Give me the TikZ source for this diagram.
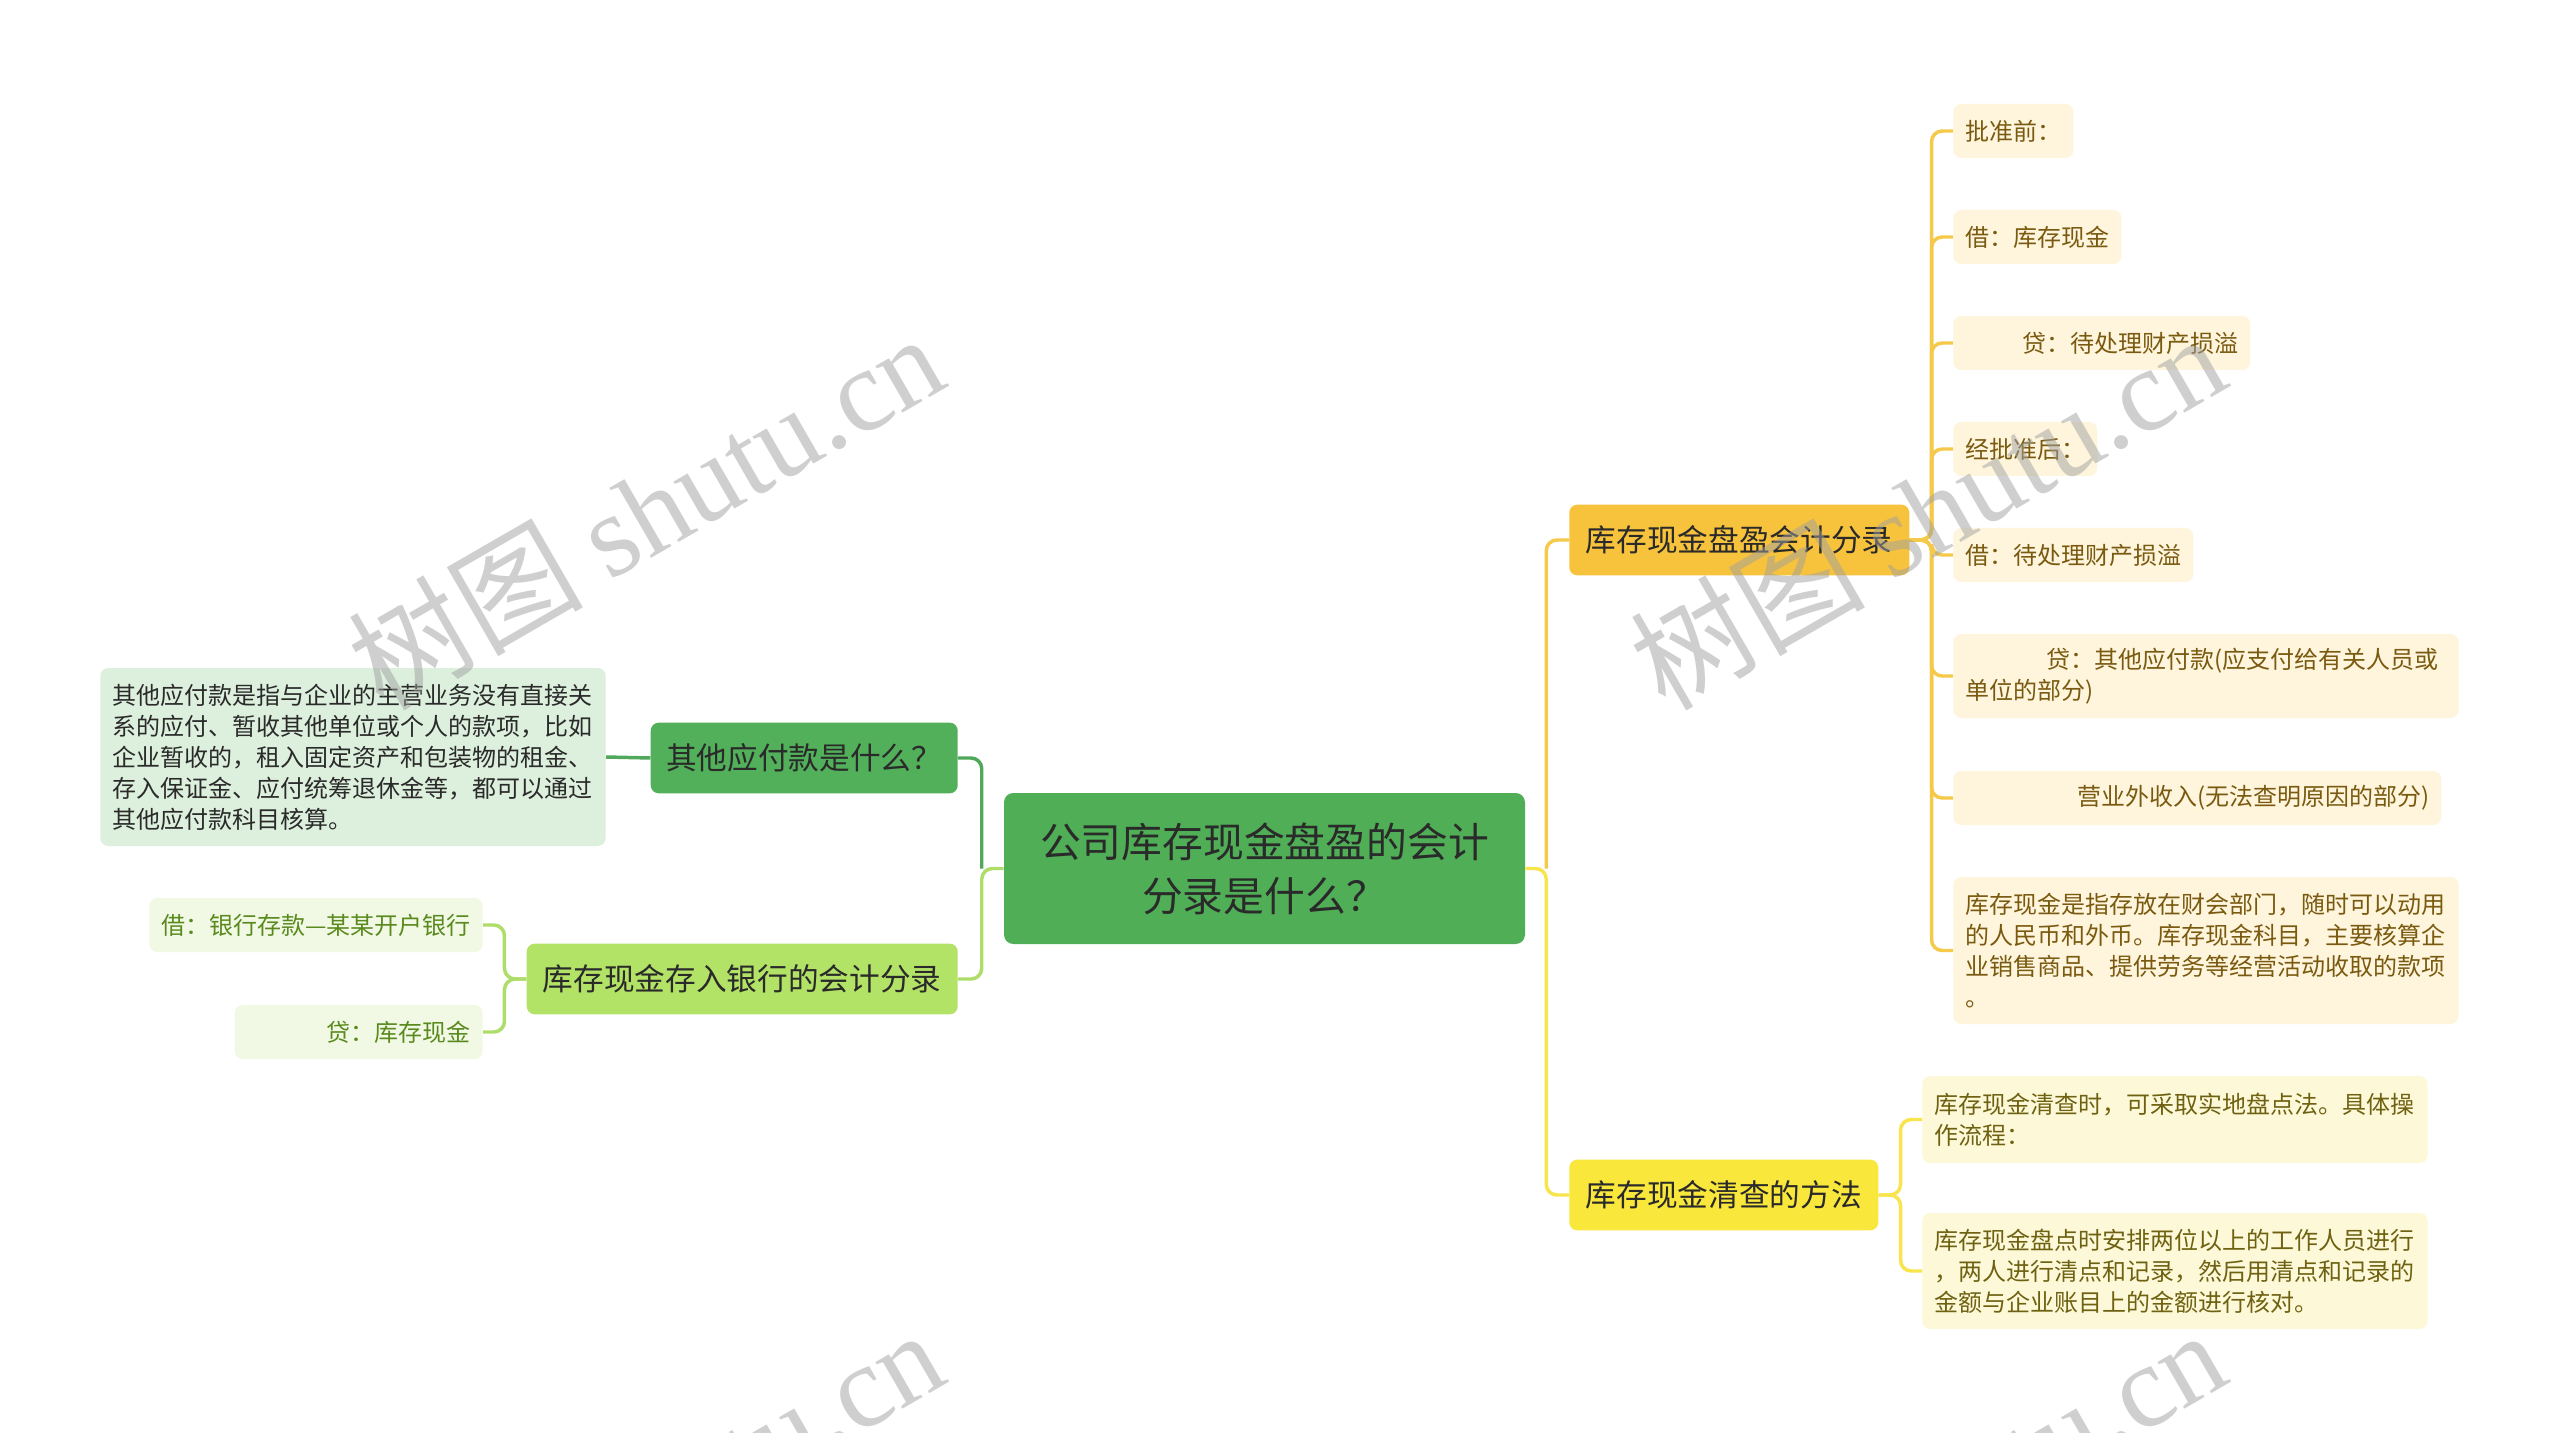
\documentclass[tikz,border=0pt]{standalone}
\usepackage{fontspec}
\setmainfont{Noto Sans CJK SC}
\newfontfamily\wmlatin{Liberation Serif}
\definecolor{cfill}{HTML}{50AE57}
\definecolor{ctext}{HTML}{2A2A2A}
\definecolor{dgfill}{HTML}{52AF5A}
\definecolor{dgline}{HTML}{50A85A}
\definecolor{tbfill}{HTML}{DDEFDD}
\definecolor{lgfill}{HTML}{B3E366}
\definecolor{lgline}{HTML}{AEDD6A}
\definecolor{lgleaf}{HTML}{F1F9E5}
\definecolor{lgtext}{HTML}{5A8A1E}
\definecolor{gdfill}{HTML}{F8C33C}
\definecolor{gdline}{HTML}{F5C949}
\definecolor{gdleaf}{HTML}{FEF5DC}
\definecolor{gdtext}{HTML}{7A5A10}
\definecolor{ywfill}{HTML}{FAE73C}
\definecolor{ywline}{HTML}{F8E54E}
\definecolor{ywleaf}{HTML}{FDF9D8}
\definecolor{ywtext}{HTML}{6E6212}
\definecolor{wmgray}{HTML}{A0A0A0}
\begin{document}
\begin{tikzpicture}[x=0.75pt,y=-0.75pt,
  centerbox/.style={fill=cfill, rounded corners=7pt, minimum width=390.75pt, minimum height=113.25pt, align=center, inner sep=0pt, font=\fontsize{30.6pt}{40.5pt}\selectfont, text=ctext},
  branch/.style={rounded corners=6pt, minimum height=53pt, inner sep=0pt, font=\fontsize{23pt}{27pt}\selectfont, text=ctext},
  leaf/.style={rounded corners=6pt, inner xsep=9pt, inner ysep=0pt, minimum height=40.5pt, font=\fontsize{18pt}{23.25pt}\selectfont, align=left},
  gleaf/.style={leaf, fill=lgleaf, text=lgtext},
  oleaf/.style={leaf, fill=gdleaf, text=gdtext},
  yleaf/.style={leaf, fill=ywleaf, text=ywtext},
  conn/.style={line width=2.6pt, rounded corners=8pt},
  wm/.style={text=wmgray, opacity=0.5, font=\fontsize{88pt}{92pt}\selectfont, inner sep=0pt}
]
\useasboundingbox[fill=white] (0,0) rectangle (2560,1433);

% center
\node[centerbox] (c) at (1264.5,868.5) {公司库存现金盘盈的会计\\分录是什么？};

% left branches
\node[branch, fill=dgfill, minimum width=230.25pt, anchor=east] (qt) at (958,758) {其他应付款是什么？};
\node[branch, fill=lgfill, minimum width=323.25pt, anchor=east] (bank) at (958,979) {库存现金存入银行的会计分录};
\node[leaf, fill=tbfill, text=ctext, text width=361pt, minimum height=133.5pt, anchor=east] (tb) at (606,757) {其他应付款是指与企业的主营业务没有直接关\\系的应付、暂收其他单位或个人的款项，比如\\企业暂收的，租入固定资产和包装物的租金、\\存入保证金、应付统筹退休金等，都可以通过\\其他应付款科目核算。};
\node[gleaf, anchor=east] (b1) at (483,925) {借：银行存款—某某开户银行};
\node[gleaf, anchor=east, text width=168pt, align=right] (b2) at (483,1032) {贷：库存现金};

% right branches
\node[branch, fill=gdfill, minimum width=255pt, anchor=west] (pany) at (1569,540) {库存现金盘盈会计分录};
\node[branch, fill=ywfill, minimum width=231.75pt, anchor=west] (qc) at (1569,1195) {库存现金清查的方法};

\node[oleaf, anchor=west] (r1) at (1953,131) {批准前：};
\node[oleaf, anchor=west] (r2) at (1953,237) {借：库存现金};
\node[oleaf, anchor=west, text width=204.75pt, align=right] (r3) at (1953,343) {贷：待处理财产损溢};
\node[oleaf, anchor=west] (r4) at (1953,449) {经批准后：};
\node[oleaf, anchor=west] (r5) at (1953,555) {借：待处理财产损溢};
\node[oleaf, anchor=west, text width=361pt, minimum height=63pt] (r6) at (1953,676) {\makebox[\linewidth][r]{贷：其他应付款(应支付给有关人员或\hspace{6pt}}\\单位的部分)};
\node[oleaf, anchor=west, text width=348pt, align=right] (r7) at (1953,798) {营业外收入(无法查明原因的部分)};
\node[oleaf, anchor=west, text width=361pt, minimum height=110.25pt] (r8) at (1953,950.5) {库存现金是指存放在财会部门，随时可以动用\\的人民币和外币。库存现金科目，主要核算企\\业销售商品、提供劳务等经营活动收取的款项\\。};

\node[yleaf, anchor=west, text width=361pt, minimum height=65.25pt] (q1) at (1922,1119.5) {库存现金清查时，可采取实地盘点法。具体操\\作流程：};
\node[yleaf, anchor=west, text width=361pt, minimum height=87pt] (q2) at (1922,1271) {库存现金盘点时安排两位以上的工作人员进行\\，两人进行清点和记录，然后用清点和记录的\\金额与企业账目上的金额进行核对。};

% connectors: center to branches
\draw[conn, lgline] (c.west) -- ++(-22,0) |- (bank.east);
\draw[conn, dgline] (c.west) ++(-22,0) |- (qt.east);
\draw[conn, ywline] (c.east) -- ++(21,0) |- (qc.west);
\draw[conn, gdline] (c.east) ++(21,0) |- (pany.west);

% left leaves
\draw[conn, dgline] (qt.west) -- (tb.east);
\draw[conn, lgline] (bank.west) -- ++(-22,0) |- (b1.east);
\draw[conn, lgline] (bank.west) -- ++(-22,0) |- (b2.east);

% right leaves
\foreach \r in {r1,r2,r3,r4,r5,r6,r7,r8}
  \draw[conn, gdline] (pany.east) -- ++(22,0) |- (\r.west);
\draw[conn, ywline] (qc.east) -- ++(22,0) |- (q1.west);
\draw[conn, ywline] (qc.east) -- ++(22,0) |- (q2.west);

% watermark
\begin{scope}
\clip (0,0) rectangle (2560,1433);
\foreach \dx/\dy in {0/0,1282/0,0/996,1282/996}
  \node[wm, rotate=30] (wm\dx\dy) at (645+\dx,510+\dy) {树图 {\wmlatin shutu.cn}};
\end{scope}
\end{tikzpicture}
\end{document}
